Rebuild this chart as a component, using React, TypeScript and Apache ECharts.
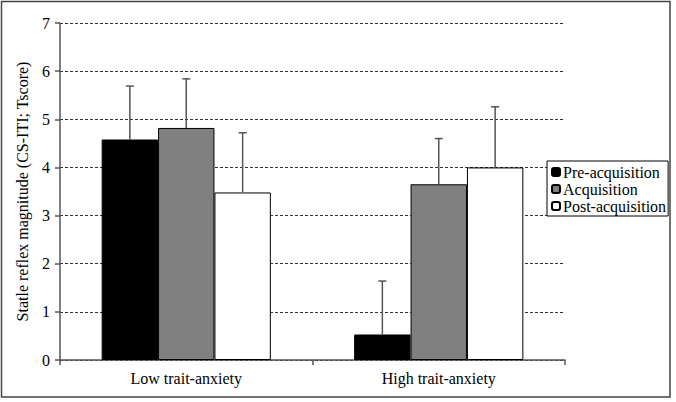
import React, { useEffect, useRef } from "react";
import * as echarts from "echarts";

// Groups and conditions
const categories = ["Low trait-anxiety", "High trait-anxiety"];
const seriesNames = ["Pre-acquisition", "Acquisition", "Post-acquisition"];

// Mean startle magnitude per condition (T score)
const preAcquisition = [4.58, 0.53];
const acquisition = [4.82, 3.65];
const postAcquisition = [3.48, 4.0];

// Upper error bar lengths (SE)
const preAcquisitionErr = [1.11, 1.11];
const acquisitionErr = [1.02, 0.95];
const postAcquisitionErr = [1.24, 1.26];

const yTicks = [0, 1, 2, 3, 4, 5, 6, 7];

const FONT = "'Liberation Serif', 'Times New Roman', serif";
const BAR_CATEGORY_GAP = 0.33;

const barColors = ["#000000", "#808080", "#ffffff"];

export default function App() {
  const ref = useRef<HTMLDivElement>(null);

  useEffect(() => {
    if (!ref.current) return;
    const chart = echarts.init(ref.current, undefined, { renderer: "svg" });

    const means = [preAcquisition, acquisition, postAcquisition];
    const errs = [preAcquisitionErr, acquisitionErr, postAcquisitionErr];

    const bars = seriesNames.map((name, i) => ({
      name,
      type: "bar",
      data: means[i],
      barGap: "0%",
      barCategoryGap: `${BAR_CATEGORY_GAP * 100}%`,
      itemStyle: { color: barColors[i], borderColor: "#000", borderWidth: 1 },
      z: 2,
    }));

    const errorBars = seriesNames.map((name, i) => ({
      name: name + " error",
      type: "custom",
      z: 3,
      data: means[i].map((v, c) => [c, v, errs[i][c]]),
      encode: { x: 0, y: 1 },
      renderItem: (params: any, api: any) => {
        const c = api.value(0);
        const v = api.value(1);
        const e = api.value(2);
        const base = api.coord([c, v]);
        const top = api.coord([c, v + e]);
        const catW = api.size([1, 0])[0];
        const bw = (catW * (1 - BAR_CATEGORY_GAP)) / 3;
        const x = base[0] + (i - 1) * bw;
        const style = { stroke: "#555", lineWidth: 1.5 };
        return {
          type: "group",
          children: [
            { type: "line", shape: { x1: x, y1: base[1], x2: x, y2: top[1] }, style },
            { type: "line", shape: { x1: x - 4, y1: top[1], x2: x + 4, y2: top[1] }, style },
          ],
        };
      },
    }));

    chart.setOption({
      animation: false,
      backgroundColor: "#ffffff",
      textStyle: { fontFamily: FONT },
      grid: { left: 60, right: 111, top: 23, bottom: 42 },
      graphic: [
        {
          type: "rect",
          shape: { x: 1.5, y: 1.5, width: 668.5, height: 395.5 },
          style: { fill: "none", stroke: "#444", lineWidth: 1.5 },
          silent: true,
        },
      ],
      legend: {
        data: seriesNames,
        orient: "vertical",
        left: 547,
        top: 161,
        backgroundColor: "#fff",
        borderColor: "#000",
        borderWidth: 1,
        borderRadius: 0,
        padding: [3, 2, 2, 4],
        itemGap: 1,
        itemWidth: 8,
        itemHeight: 8,
        icon: "roundRect",
        textStyle: { fontFamily: FONT, fontSize: 16, color: "#000", padding: [0, 0, 0, -2] },
      },
      xAxis: {
        type: "category",
        data: categories,
        axisLine: { lineStyle: { color: "#555", width: 1.5 } },
        axisTick: { show: true, length: 5, lineStyle: { color: "#555", width: 1.5 } },
        axisLabel: { fontFamily: FONT, fontSize: 16, color: "#000", margin: 10 },
        splitLine: { show: false },
      },
      yAxis: {
        type: "value",
        min: yTicks[0],
        max: yTicks[yTicks.length - 1],
        interval: 1,
        name: "Statle reflex magnitude (CS-ITI; Tscore)",
        nameLocation: "middle",
        nameGap: 30,
        nameTextStyle: { fontFamily: FONT, fontSize: 16, color: "#000" },
        axisLine: { show: true, lineStyle: { color: "#555", width: 1.5 } },
        axisTick: { show: true, length: 5, lineStyle: { color: "#555", width: 1.5 } },
        axisLabel: { fontFamily: FONT, fontSize: 16, color: "#000", margin: 10 },
        splitLine: { show: true, lineStyle: { color: "#333", width: 1, type: [3, 2] } },
      },
      series: [...bars, ...errorBars],
    });

    return () => chart.dispose();
  }, []);

  return (
    <div
      ref={ref}
      style={{ position: "absolute", left: 0, top: 0, width: 676, height: 402, background: "#fff" }}
    />
  );
}
